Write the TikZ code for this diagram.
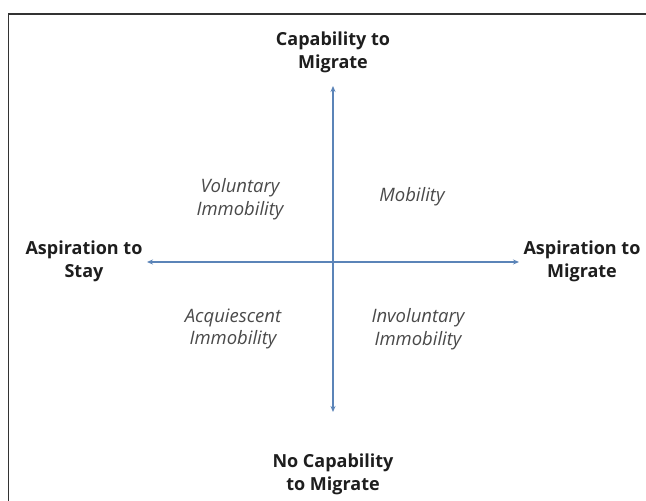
\documentclass[tikz,border=0pt]{standalone}
\usepackage{fontspec}
\setmainfont{Open Sans}
\usetikzlibrary{arrows.meta}
\definecolor{axisblue}{HTML}{5B84B8}
\definecolor{labelblack}{HTML}{1E1E1E}
\definecolor{quadgray}{HTML}{4A4A4A}
\tikzset{
  axis/.style={draw=axisblue, line width=1.3pt, {Stealth[length=6pt,width=5pt]}-{Stealth[length=6pt,width=5pt]}},
  pole/.style={align=center, font=\fontsize{18}{23}\selectfont\bfseries, text=labelblack, inner sep=0pt},
  quad/.style={align=center, font=\fontsize{18.5}{22.5}\selectfont\itshape, text=quadgray, inner sep=0pt},
  frame/.style={draw=black!80, line width=1.2pt}
}
\begin{document}
\begin{tikzpicture}[x=1pt,y=1pt]
\useasboundingbox (0,0) rectangle (646,501);
\fill[white] (0,0) rectangle (646,501);
\draw[frame] (8.5,0) -- (8.5,487) -- (646,487);
\coordinate (top) at (333,415);
\coordinate (bot) at (333,89);
\coordinate (lft) at (147,239);
\coordinate (rgt) at (519,239);
\draw[axis] (bot) -- (top);
\draw[axis] (lft) -- (rgt);
\node[pole] (cap) at (333,449) {Capability to\\Migrate};
\node[pole] (nocap) at (333,27) {No Capability\\to Migrate};
\node[pole] (stay) at (84,240) {Aspiration to\\Stay};
\node[pole] (mig) at (582,240) {Aspiration to\\Migrate};
\node[quad] (vol) at (240,302) {Voluntary\\Immobility};
\node[quad] (mob) at (412,304) {Mobility};
\node[quad] (acq) at (233,172) {Acquiescent\\Immobility};
\node[quad] (inv) at (418,172) {Involuntary\\Immobility};
\end{tikzpicture}
\end{document}
